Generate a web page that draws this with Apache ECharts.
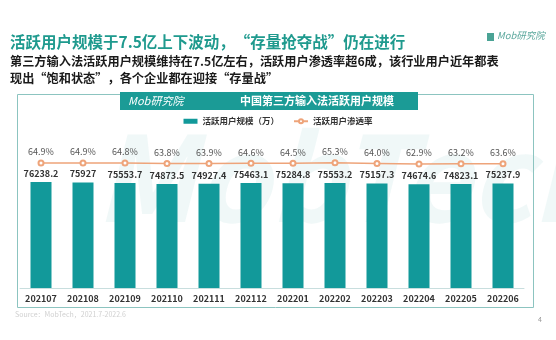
<!DOCTYPE html>
<html><head><meta charset="utf-8">
<script src="https://cdn.jsdelivr.net/npm/echarts@6/dist/echarts.min.js"></script>
<style>html,body{margin:0;padding:0;background:#fff}#c{width:556px;height:340px}</style>
</head><body><div id="c"></div>
<script>
const categories = ['202107','202108','202109','202110','202111','202112','202201','202202','202203','202204','202205','202206'];
const users = [76238.2,75927,75553.7,74873.5,74927.4,75463.1,75284.8,75553.2,75157.3,74674.6,74823.1,75237.9];
const penetration = [64.9,64.9,64.8,63.8,63.9,64.6,64.5,65.3,64.0,62.9,63.2,63.6];
const seriesNames = ['活跃用户规模（万）','活跃用户渗透率'];

const chart = echarts.init(document.getElementById('c'));
const F = '"Noto Sans CJK SC", "Noto Sans", sans-serif';
chart.setOption({
  animation:false,
  textStyle:{fontFamily:F},
  graphic:[
    {type:'text', left:10, top:34, z:20, style:{text:'活跃用户规模于7.5亿上下波动，“存量抢夺战”仍在进行', font:'bold 15.5px '+F, fill:'#1f9a8e'}},
    {type:'text', left:10, top:55, z:20, style:{text:'第三方输入法活跃用户规模维持在7.5亿左右，活跃用户渗透率超6成，该行业用户近年都表', font:'bold 12.2px '+F, fill:'#1a1a1a'}},
    {type:'text', left:10, top:72, z:20, style:{text:'现出“饱和状态”，各个企业都在迎接“存量战”', font:'bold 12.2px '+F, fill:'#1a1a1a'}},
    {type:'text', left:497, top:31, z:20, style:{text:'Mob研究院', font:'italic 9.5px '+F, fill:'#5aa79c'}},
    {type:'rect', left:487, top:33, z:20, shape:{width:7,height:8}, style:{fill:'#4aa395'}},
    {type:'rect', left:15, top:92, z:1, shape:{width:516,height:213}, style:{fill:'none', stroke:'#8cc4c0', lineWidth:1}},
    {type:'rect', left:120, top:92, z:20, shape:{width:298,height:18}, style:{fill:'#1b9b96'}},
    {type:'text', left:128, top:95, z:21, style:{text:'Mob研究院', font:'italic 11px '+F, fill:'#ffffff'}},
    {type:'text', left:240, top:95, z:21, style:{text:'中国第三方输入法活跃用户规模', font:'bold 11px '+F, fill:'#ffffff'}},
    {type:'text', left:95, top:118, z:-10, style:{text:'MobTech', font:'bold italic 118px '+F, fill:'rgba(150,205,205,0.14)'}},
    {type:'text', left:15, top:311, z:20, style:{text:'Source：MobTech，2021.7-2022.6', font:'7px '+F, fill:'#d0d0d0'}},
    {type:'text', left:538, top:316, z:20, style:{text:'4', font:'7px '+F, fill:'#999'}}
  ],
  legend:{
    top:112, left:'center', itemGap:14, itemWidth:14, itemHeight:5,
    textStyle:{fontSize:8.5, fontWeight:'bold', color:'#333', fontFamily:F},
    data:[{name:seriesNames[0], icon:'rect'},{name:seriesNames[1]}]
  },
  grid:{left:20, right:32, top:140, bottom:52},
  xAxis:{
    type:'category', data:categories,
    axisLine:{lineStyle:{color:'#c8dede'}}, axisTick:{show:false},
    axisLabel:{fontSize:9, fontWeight:'bold', color:'#333', margin:6, fontFamily:F}
  },
  yAxis:[
    {type:'value', min:0, max:106445, show:false, splitLine:{show:false}},
    {type:'value', min:-185.1, max:110.9, show:false, splitLine:{show:false}}
  ],
  series:[
    {name:seriesNames[0], type:'bar', data:users, barWidth:21, z:3,
     itemStyle:{color:'#12999a'},
     label:{show:true, position:'top', distance:4, fontSize:9, fontWeight:'bold', color:'#333', fontFamily:F}},
    {name:seriesNames[1], type:'line', yAxisIndex:1, data:penetration, z:4,
     symbol:'emptyCircle', symbolSize:5,
     lineStyle:{color:'#eea47a', width:1.5}, itemStyle:{color:'#eea47a'},
     label:{show:true, position:'top', distance:3, fontSize:9, color:'#555', formatter:p=>p.value.toFixed(1)+'%', fontFamily:F}}
  ]
});
</script>
</body></html>
